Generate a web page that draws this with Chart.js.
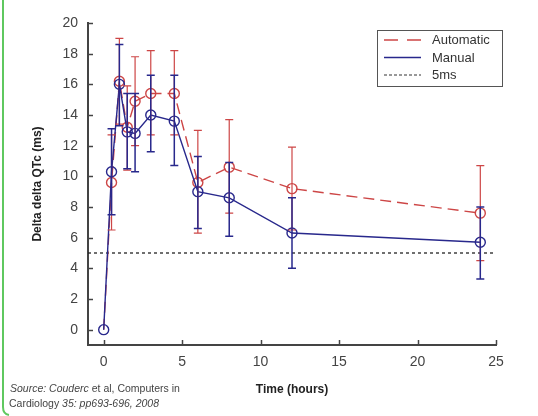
<!DOCTYPE html>
<html><head><meta charset="utf-8">
<script src="https://cdn.jsdelivr.net/npm/chart.js@4/dist/chart.umd.min.js"></script>
<style>html,body{margin:0;padding:0;background:#fff;overflow:hidden}</style>
</head><body>
<canvas id="c" width="538" height="416"></canvas>
<script>
const times = [0, 0.5, 1, 1.5, 2, 3, 4.5, 6, 8, 12, 24];
const automatic = [0, 9.6, 16.2, 13.2, 14.9, 15.4, 15.4, 9.6, 10.6, 9.2, 7.6];
const autoUpper = [null, 12.7, 19.0, 15.9, 17.8, 18.2, 18.2, 13.0, 13.7, 11.9, 10.7];
const autoLower = [null, 6.5, 13.4, 10.4, 12.0, 12.7, 12.7, 6.3, 7.6, 6.5, 4.5];
const manual = [0, 10.3, 16.0, 12.9, 12.8, 14.0, 13.6, 9.0, 8.6, 6.3, 5.7];
const manualUpper = [null, 13.1, 18.6, 15.4, 15.4, 16.6, 16.6, 11.3, 10.9, 8.6, 8.0];
const manualLower = [null, 7.5, 13.3, 10.5, 10.3, 11.6, 10.7, 6.6, 6.1, 4.0, 3.3];
const thresholdValue = 5;
const thresholdRange = [-1, 25];
const xTicks = [0, 5, 10, 15, 20, 25];
const yTicks = [0, 2, 4, 6, 8, 10, 12, 14, 16, 18, 20];
const seriesNames = ['Automatic', 'Manual', '5ms'];

const RED = 'rgb(205,70,70)';
const BLUE = 'rgb(40,40,140)';
const AXIS = '#444';

function pts(vals) { return times.map((t, i) => ({x: t, y: vals[i]})); }

const errorBars = {
  id: 'errorBars',
  afterDatasetsDraw(chart) {
    const ctx = chart.ctx, xs = chart.scales.x, ys = chart.scales.y;
    const sets = [[autoUpper, autoLower, RED, 1.2], [manualUpper, manualLower, BLUE, 1.5]];
    ctx.save();
    sets.forEach(([up, lo, col, w]) => {
      ctx.strokeStyle = col; ctx.lineWidth = w;
      times.forEach((t, i) => {
        if (up[i] == null) return;
        const px = xs.getPixelForValue(t);
        const pu = ys.getPixelForValue(up[i]);
        const pl = ys.getPixelForValue(lo[i]);
        ctx.beginPath();
        ctx.moveTo(px, pu); ctx.lineTo(px, pl);
        ctx.moveTo(px - 4, pu); ctx.lineTo(px + 4, pu);
        ctx.moveTo(px - 4, pl); ctx.lineTo(px + 4, pl);
        ctx.stroke();
      });
    });
    ctx.restore();
  }
};

const decor = {
  id: 'decor',
  afterDraw(chart) {
    const ctx = chart.ctx, xs = chart.scales.x, ys = chart.scales.y, a = chart.chartArea;
    ctx.save();
    // inward ticks
    ctx.strokeStyle = AXIS; ctx.lineWidth = 1.5;
    yTicks.forEach(v => {
      const py = Math.round(ys.getPixelForValue(v)) + 0.5;
      ctx.beginPath(); ctx.moveTo(a.left, py); ctx.lineTo(a.left + 5, py); ctx.stroke();
    });
    xTicks.forEach(v => {
      const px = Math.round(xs.getPixelForValue(v)) + 0.5;
      ctx.beginPath(); ctx.moveTo(px, a.bottom); ctx.lineTo(px, a.bottom - 5); ctx.stroke();
    });
    // legend
    const lx = 377, ly = 30, lw = 125, lh = 56;
    ctx.fillStyle = '#fff'; ctx.fillRect(lx, ly, lw, lh);
    ctx.strokeStyle = '#555'; ctx.lineWidth = 1;
    ctx.strokeRect(lx + 0.5, ly + 0.5, lw, lh);
    const rows = [[RED, [14, 9], 1.3], [BLUE, [], 1.3], ['#333', [3, 2], 1]];
    rows.forEach(([col, dash, w], i) => {
      const y = 40 + i * 17.5;
      ctx.strokeStyle = col; ctx.lineWidth = w; ctx.setLineDash(dash);
      ctx.beginPath(); ctx.moveTo(384, y); ctx.lineTo(421, y); ctx.stroke();
      ctx.setLineDash([]);
      ctx.fillStyle = '#333'; ctx.font = '13px "Liberation Sans", Arial, sans-serif';
      ctx.textBaseline = 'middle'; ctx.textAlign = 'left';
      ctx.fillText(seriesNames[i], 432, y + 0.5);
    });
    // source text
    ctx.fillStyle = '#444'; ctx.textBaseline = 'middle';
    const ital = 'italic 10.5px "Liberation Sans", Arial, sans-serif';
    const norm = '10.5px "Liberation Sans", Arial, sans-serif';
    function runs(parts, x, y) {
      parts.forEach(([txt, f]) => { ctx.font = f; ctx.fillText(txt, x, y); x += ctx.measureText(txt).width; });
    }
    runs([['Source: ', ital], ['Couderc', ital], [' et al, Computers in', norm]], 10, 389);
    runs([['Cardiology ', norm], ['35: pp693-696, 2008', ital]], 9, 404.5);
    // green frame
    ctx.strokeStyle = 'rgb(95,200,95)'; ctx.lineWidth = 2;
    ctx.beginPath(); ctx.moveTo(3, 0); ctx.lineTo(3, 407); ctx.quadraticCurveTo(3, 414, 9, 415); ctx.stroke();
    ctx.restore();
  }
};

const tickFont = {size: 14, family: '"Liberation Sans", Arial, sans-serif'};
const titleFont = {size: 12, weight: 'bold', family: '"Liberation Sans", Arial, sans-serif'};

new Chart(document.getElementById('c'), {
  type: 'line',
  data: {
    datasets: [
      {label: seriesNames[0], data: pts(automatic), borderColor: RED, borderWidth: 1.4, borderDash: [11, 6],
       pointRadius: times.map((t, i) => i === 0 ? 0 : 5), pointBorderColor: RED, pointBackgroundColor: 'rgba(0,0,0,0)',
       pointBorderWidth: 1.4, tension: 0, order: 2},
      {label: seriesNames[1], data: pts(manual), borderColor: BLUE, borderWidth: 1.4,
       pointRadius: 5, pointBorderColor: BLUE, pointBackgroundColor: 'rgba(0,0,0,0)',
       pointBorderWidth: 1.4, tension: 0, order: 1},
      {label: seriesNames[2], data: thresholdRange.map(x => ({x, y: thresholdValue})), borderColor: '#222',
       borderWidth: 1.3, borderDash: [3, 3], pointRadius: 0, order: 3}
    ]
  },
  options: {
    responsive: false, animation: false,
    layout: {padding: {left: 0, top: 23, right: 42, bottom: 0}},
    plugins: {legend: {display: false}, tooltip: {enabled: false}},
    scales: {
      x: {type: 'linear', min: -1, max: 25,
        afterBuildTicks: s => { s.ticks = xTicks.map(v => ({value: v})); },
        afterFit: s => { s.height = 71; },
        grid: {drawOnChartArea: false, drawTicks: false},
        border: {color: AXIS, width: 2},
        ticks: {font: tickFont, color: '#444', padding: 9},
        title: {display: true, text: 'Time (hours)', font: titleFont, color: '#222', padding: {top: 0, bottom: 19}}
      },
      y: {type: 'linear', min: -1, max: 20,
        afterBuildTicks: s => { s.ticks = yTicks.map(v => ({value: v})); },
        afterFit: s => { s.width = 88; },
        grid: {drawOnChartArea: false, drawTicks: false},
        border: {color: AXIS, width: 2},
        ticks: {font: tickFont, color: '#444', padding: 10},
        title: {display: true, text: 'Delta delta QTc (ms)', font: titleFont, color: '#222', padding: {top: 30, bottom: 0}}
      }
    }
  },
  plugins: [errorBars, decor]
});
</script>
</body></html>
